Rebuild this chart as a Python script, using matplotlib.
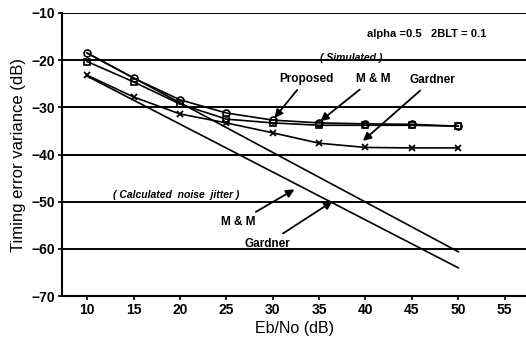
import matplotlib
matplotlib.use("Agg")
import matplotlib.pyplot as plt

ebno = [10, 15, 20, 25, 30, 35, 40, 45, 50]
sim_proposed = [-18.5, -23.8, -28.4, -31.2, -32.7, -33.3, -33.5, -33.6, -34.0]
sim_mm = [-20.3, -24.6, -29.3, -32.5, -33.3, -33.8, -33.8, -33.8, -34.0]
sim_gardner = [-23.2, -27.8, -31.4, -33.3, -35.4, -37.6, -38.5, -38.6, -38.6]
calc_x = [10, 50]
calc_mm = [-18.5, -60.6]
calc_gardner = [-23.4, -64.0]
xticks = [10, 15, 20, 25, 30, 35, 40, 45, 50, 55]
yticks = [-70, -60, -50, -40, -30, -20, -10]

plt.rcParams['font.family'] = ['Liberation Sans', 'DejaVu Sans']

fig = plt.figure(figsize=(5.26, 3.4), dpi=100)
ax = fig.add_axes([0.118, 0.129, 0.882, 0.833])
ax.set_xlim(7.3, 57.3)
ax.set_ylim(-70, -10)

for y in yticks:
    ax.axhline(y, color='black', lw=1.4, zorder=1)

ax.plot(calc_x, calc_mm, color='black', lw=1.2, zorder=2)
ax.plot(calc_x, calc_gardner, color='black', lw=1.2, zorder=2)
ax.plot(ebno, sim_proposed, color='black', lw=1.2, marker='o', ms=5,
        mfc='none', mec='black', mew=1.2, zorder=3)
ax.plot(ebno, sim_mm, color='black', lw=1.2, marker='s', ms=4.5,
        mfc='none', mec='black', mew=1.2, zorder=3)
ax.plot(ebno, sim_gardner, color='black', lw=1.2, marker='x', ms=5,
        mew=1.3, zorder=3)

ax.spines['top'].set_visible(False)
ax.spines['right'].set_visible(False)
ax.spines['left'].set_linewidth(1.5)
ax.spines['bottom'].set_linewidth(1.5)
ax.set_xticks(xticks)
ax.set_yticks(yticks)
ax.tick_params(axis='both', labelsize=10, width=1.2, length=3, pad=2)
for lab in ax.get_xticklabels() + ax.get_yticklabels():
    lab.set_fontweight('bold')
ax.set_xlabel('Eb/No (dB)', fontsize=11.5, labelpad=3)
ax.set_ylabel('Timing error variance (dB)', fontsize=12, labelpad=4)

ax.text(46.6, -14.4, 'alpha =0.5   2BLT = 0.1', fontsize=8, fontweight='bold',
        ha='center', va='center')
ax.text(38.5, -19.6, '( Simulated )', fontsize=7.5, fontweight='bold',
        style='italic', ha='center', va='center')
ax.text(19.6, -48.5, '( Calculated  noise  jitter )', fontsize=7.5, fontweight='bold',
        style='italic', ha='center', va='center')

arrow = dict(arrowstyle='-|>', color='black', lw=1.3, mutation_scale=12)
fs = 8.5
ax.annotate('Proposed', xy=(30, -32.7), xytext=(33.6, -24.0), fontsize=fs,
            fontweight='bold', ha='center', va='center', arrowprops=arrow)
ax.annotate('M & M', xy=(34.9, -33.3), xytext=(40.8, -24.0), fontsize=fs,
            fontweight='bold', ha='center', va='center', arrowprops=arrow)
ax.annotate('Gardner', xy=(39.5, -37.5), xytext=(47.2, -24.2), fontsize=fs,
            fontweight='bold', ha='center', va='center', arrowprops=arrow)
ax.annotate('M & M', xy=(32.6, -47.1), xytext=(26.3, -54.3), fontsize=fs,
            fontweight='bold', ha='center', va='center', arrowprops=arrow)
ax.annotate('Gardner', xy=(36.7, -49.6), xytext=(29.4, -58.9), fontsize=fs,
            fontweight='bold', ha='center', va='center', arrowprops=arrow)

fig.savefig('out.png', dpi=100)
